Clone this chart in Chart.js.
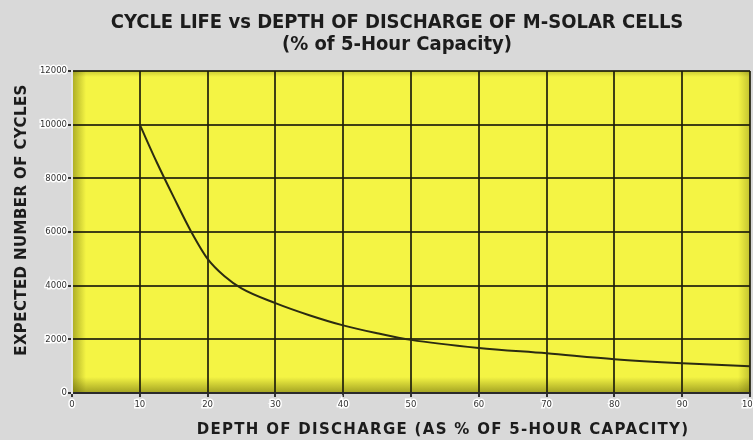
<!DOCTYPE html>
<html>
<head>
<meta charset="utf-8">
<script src="https://cdn.jsdelivr.net/npm/chart.js@4.4.0/dist/chart.umd.min.js"></script>
<style>
    html, body { margin: 0; padding: 0; background: #d9d9d9; }
    #wrap { width: 753px; height: 440px; }
</style>
</head>
<body>
<div id="wrap"><canvas id="mainChart" width="753" height="440"></canvas></div>
<script>
/* =========================
   DATOS
========================= */
const depthPct = [10, 12.5, 15, 17.5, 20, 22.5, 25, 30, 35, 40, 45, 50, 60, 70, 80, 90, 100];
const cycles = [10000, 8600, 7300, 6050, 5000, 4350, 3900, 3350, 2900, 2520, 2230, 1980, 1680, 1480, 1260, 1110, 1000];

const xTicks = [0, 10, 20, 30, 40, 50, 60, 70, 80, 90, 100];
const yTicks = [0, 2000, 4000, 6000, 8000, 10000, 12000];

const titleLines = [
    "CYCLE LIFE vs DEPTH OF DISCHARGE OF M-SOLAR CELLS",
    "(% of 5-Hour Capacity)"
];
const xTitle = "DEPTH OF DISCHARGE (AS % OF 5-HOUR CAPACITY)";
const yTitle = "EXPECTED NUMBER OF CYCLES";

/* =========================
   FONDO + TEXTOS
========================= */
const backdrop = {
    id: "backdrop",
    beforeDraw(chart) {
        const { ctx, chartArea: a } = chart;
        ctx.save();
        ctx.fillStyle = "#d9d9d9";
        ctx.fillRect(0, 0, chart.width, chart.height);

        ctx.fillStyle = "#f4f444";
        ctx.fillRect(a.left, a.top, a.right - a.left, a.bottom - a.top);

        // sombra interior en los bordes
        const edge = (x0, y0, x1, y1, rx, ry, rw, rh, alpha) => {
            const g = ctx.createLinearGradient(x0, y0, x1, y1);
            g.addColorStop(0, `rgba(80,80,0,${alpha})`);
            g.addColorStop(1, "rgba(80,80,0,0)");
            ctx.fillStyle = g;
            ctx.fillRect(rx, ry, rw, rh);
        };
        const w = a.right - a.left;
        const h = a.bottom - a.top;
        edge(a.left, 0, a.left + 14, 0, a.left, a.top, 14, h, 0.45);
        edge(0, a.bottom, 0, a.bottom - 16, a.left, a.bottom - 16, w, 16, 0.5);
        edge(a.right, 0, a.right - 12, 0, a.right - 12, a.top, 12, h, 0.3);
        edge(0, a.top, 0, a.top + 6, a.left, a.top, w, 6, 0.25);
        ctx.restore();
    },
    afterDraw(chart) {
        const { ctx } = chart;
        ctx.save();
        ctx.fillStyle = "#1c1c1c";
        ctx.textAlign = "center";
        ctx.textBaseline = "middle";

        ctx.font = "bold 20px 'Liberation Sans Narrow', 'DejaVu Sans Condensed', 'Roboto Condensed', sans-serif";
        ctx.fillText(titleLines[0], 397, 23);
        ctx.fillText(titleLines[1], 397, 45);

        ctx.font = "bold 15px 'DejaVu Sans', sans-serif";
        ctx.letterSpacing = "1.3px";
        ctx.fillText(xTitle, 443, 430);

        ctx.letterSpacing = "0.4px";
        ctx.translate(22, 220);
        ctx.rotate(-Math.PI / 2);
        ctx.fillText(yTitle, 0, 0);
        ctx.restore();
    }
};

/* =========================
   GRAFICO
========================= */
const tickFont = { family: "'DejaVu Sans', sans-serif", size: 8.5 };

new Chart(document.getElementById("mainChart"), {
    type: "line",
    data: {
        datasets: [{
            data: depthPct.map((d, i) => ({ x: d, y: cycles[i] })),
            borderColor: "#2b2b12",
            borderWidth: 2,
            pointRadius: 0,
            cubicInterpolationMode: "monotone",
            fill: false
        }]
    },
    options: {
        responsive: false,
        animation: false,
        layout: { padding: { top: 71, right: 3, left: 0, bottom: 0 } },
        plugins: {
            legend: { display: false },
            tooltip: { enabled: false }
        },
        scales: {
            x: {
                type: "linear",
                min: 0,
                max: 100,
                afterBuildTicks: s => { s.ticks = xTicks.map(v => ({ value: v })); },
                afterFit: s => { s.height = 47; s.paddingLeft = 0; s.paddingRight = 0; },
                grid: { color: "rgba(30,30,10,0.85)", lineWidth: 2, tickLength: 4, tickColor: "#333" },
                border: { color: "#2a2a2a", width: 2 },
                ticks: {
                    font: tickFont, color: "#333", padding: 3, maxRotation: 0,
                    textStrokeColor: "#ffffff", textStrokeWidth: 3,
                    callback: v => String(v)
                }
            },
            y: {
                min: 0,
                max: 12000,
                afterBuildTicks: s => { s.ticks = yTicks.map(v => ({ value: v })); },
                afterFit: s => { s.width = 72; },
                grid: { color: "rgba(30,30,10,0.85)", lineWidth: 2, tickLength: 4, tickColor: "#333" },
                border: { color: "#e6e6e6", width: 2 },
                ticks: {
                    font: tickFont, color: "#333", padding: 1,
                    textStrokeColor: "#ffffff", textStrokeWidth: 3,
                    callback: v => String(v)
                }
            }
        }
    },
    plugins: [backdrop]
});
</script>
</body>
</html>
